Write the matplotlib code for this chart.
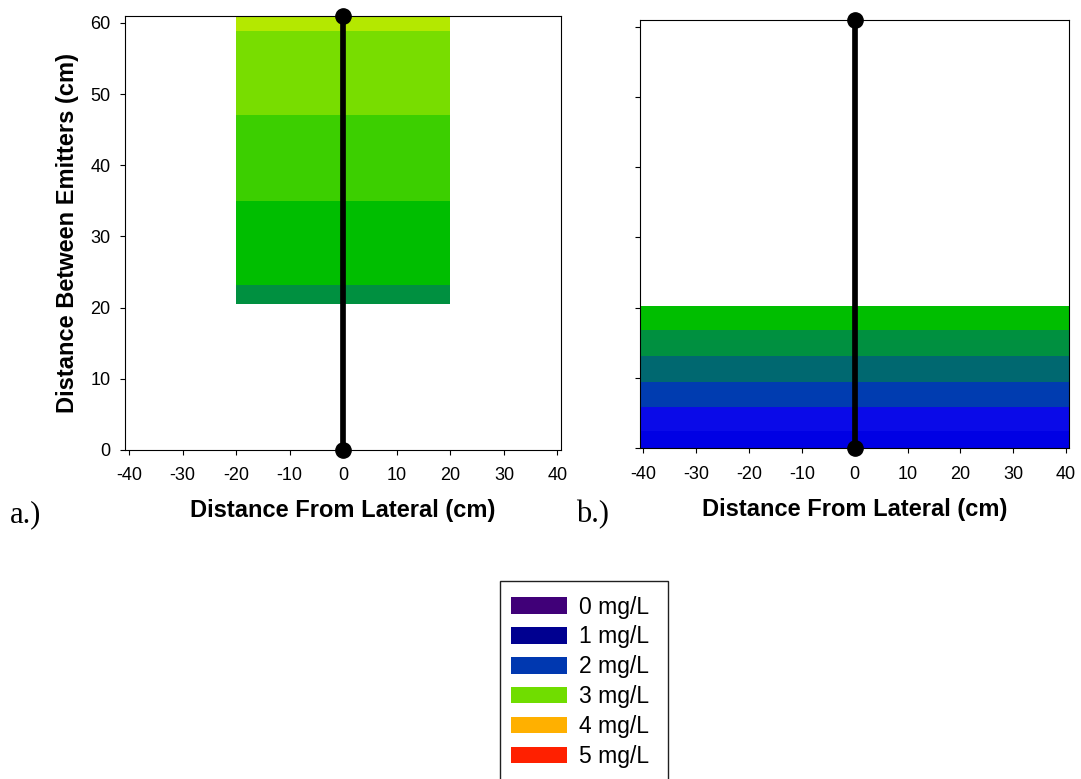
import matplotlib.pyplot as plt
from matplotlib.patches import Rectangle, Patch

# band edges (cm) and colours, bottom to top
a_edges = [20.5, 23.2, 35.0, 47.0, 58.8, 61.0]
a_colors = ["#009040", "#00BE00", "#3CCF00", "#78DD00", "#B4E800"]
a_xspan = [-20.0, 20.0]

b_edges = [0.0, 2.4, 5.9, 9.5, 13.2, 16.8, 20.3]
b_colors = ["#0000E4", "#0A0AE8", "#003CB0", "#006870", "#009040", "#00BE00"]
b_xspan = [-40.6, 40.6]

lateral_x = [0, 0]
lateral_y = [0, 60.9]

legend_labels = ["0 mg/L", "1 mg/L", "2 mg/L", "3 mg/L", "4 mg/L", "5 mg/L"]
legend_colors = ["#400078", "#000090", "#0038B0", "#70DD00", "#FFB000", "#FF2000"]

xticks = [-40, -30, -20, -10, 0, 10, 20, 30, 40]
yticks = [0, 10, 20, 30, 40, 50, 60]

plt.rcParams["font.family"] = ["Liberation Sans", "DejaVu Sans"]
plt.rcParams["axes.unicode_minus"] = False

W, H = 1081, 779
fig = plt.figure(figsize=(W / 100, H / 100), dpi=100)
# axes boxes measured in pixels: left, top, right, bottom
ax1 = fig.add_axes([125.3 / W, 1 - 450 / H, (560.7 - 125.3) / W, (450 - 15.7) / H])
ax2 = fig.add_axes([640.3 / W, 1 - 448.3 / H, (1069.3 - 640.3) / W, (448.3 - 20.3) / H])


def draw_panel(ax, edges, colors, xspan, xlim, ylim, xpad):
    for i in range(len(colors)):
        ax.fill_between(xspan, edges[i], edges[i + 1], color=colors[i], lw=0)
    ax.plot(lateral_x, lateral_y, color="black", lw=4.1, marker="o",
            markersize=11, clip_on=False, zorder=5)
    ax.set_xlim(xlim)
    ax.set_ylim(ylim)
    ax.set_xticks(xticks)
    ax.set_yticks(yticks)
    ax.tick_params(direction="out", length=3.3, width=0.8, labelsize=13)
    ax.tick_params(axis="x", pad=xpad)
    ax.tick_params(axis="y", pad=7.5)
    for s in ax.spines.values():
        s.set_linewidth(0.8)
    ax.set_xlabel("Distance From Lateral (cm)", fontsize=17, fontweight="bold")


draw_panel(ax1, a_edges, a_colors, a_xspan, (-40.7, 40.6), (0, 61.0), 8.6)
ax1.set_ylabel("Distance Between Emitters (cm)", fontsize=17, fontweight="bold")
ax1.xaxis.set_label_coords(0.5, (450 - 499) / 434.3)
ax1.yaxis.set_label_coords((79 - 125.3) / 435.4, 0.5)

draw_panel(ax2, b_edges, b_colors, b_xspan, (-40.6, 40.6), (0, 60.9), 9.8)
ax2.set_yticklabels([])
ax2.xaxis.set_label_coords(0.5, (448.3 - 498) / 428)

fig.text(10 / W, 1 - 515 / H, "a.)", family="Liberation Serif", fontsize=22, va="center")
fig.text(576 / W, 1 - 515 / H, "b.)", family="Liberation Serif", fontsize=22, va="center")

# legend box runs off the bottom of the figure
fig.patches.append(Rectangle((500 / W, -0.05), 168 / W, (H - 581) / H + 0.05,
                             transform=fig.transFigure, facecolor="white",
                             edgecolor="#202020", lw=1.0))
handles = [Patch(facecolor=c, edgecolor="none") for c in legend_colors]
fig.legend(handles, legend_labels, loc="upper left", bbox_to_anchor=(490.7 / W, 1 - 575 / H),
           frameon=False, fontsize=16.5, handlelength=2.41, handleheight=0.72,
           labelspacing=0.30, handletextpad=0.55)

plt.savefig("out.png", dpi=100)
